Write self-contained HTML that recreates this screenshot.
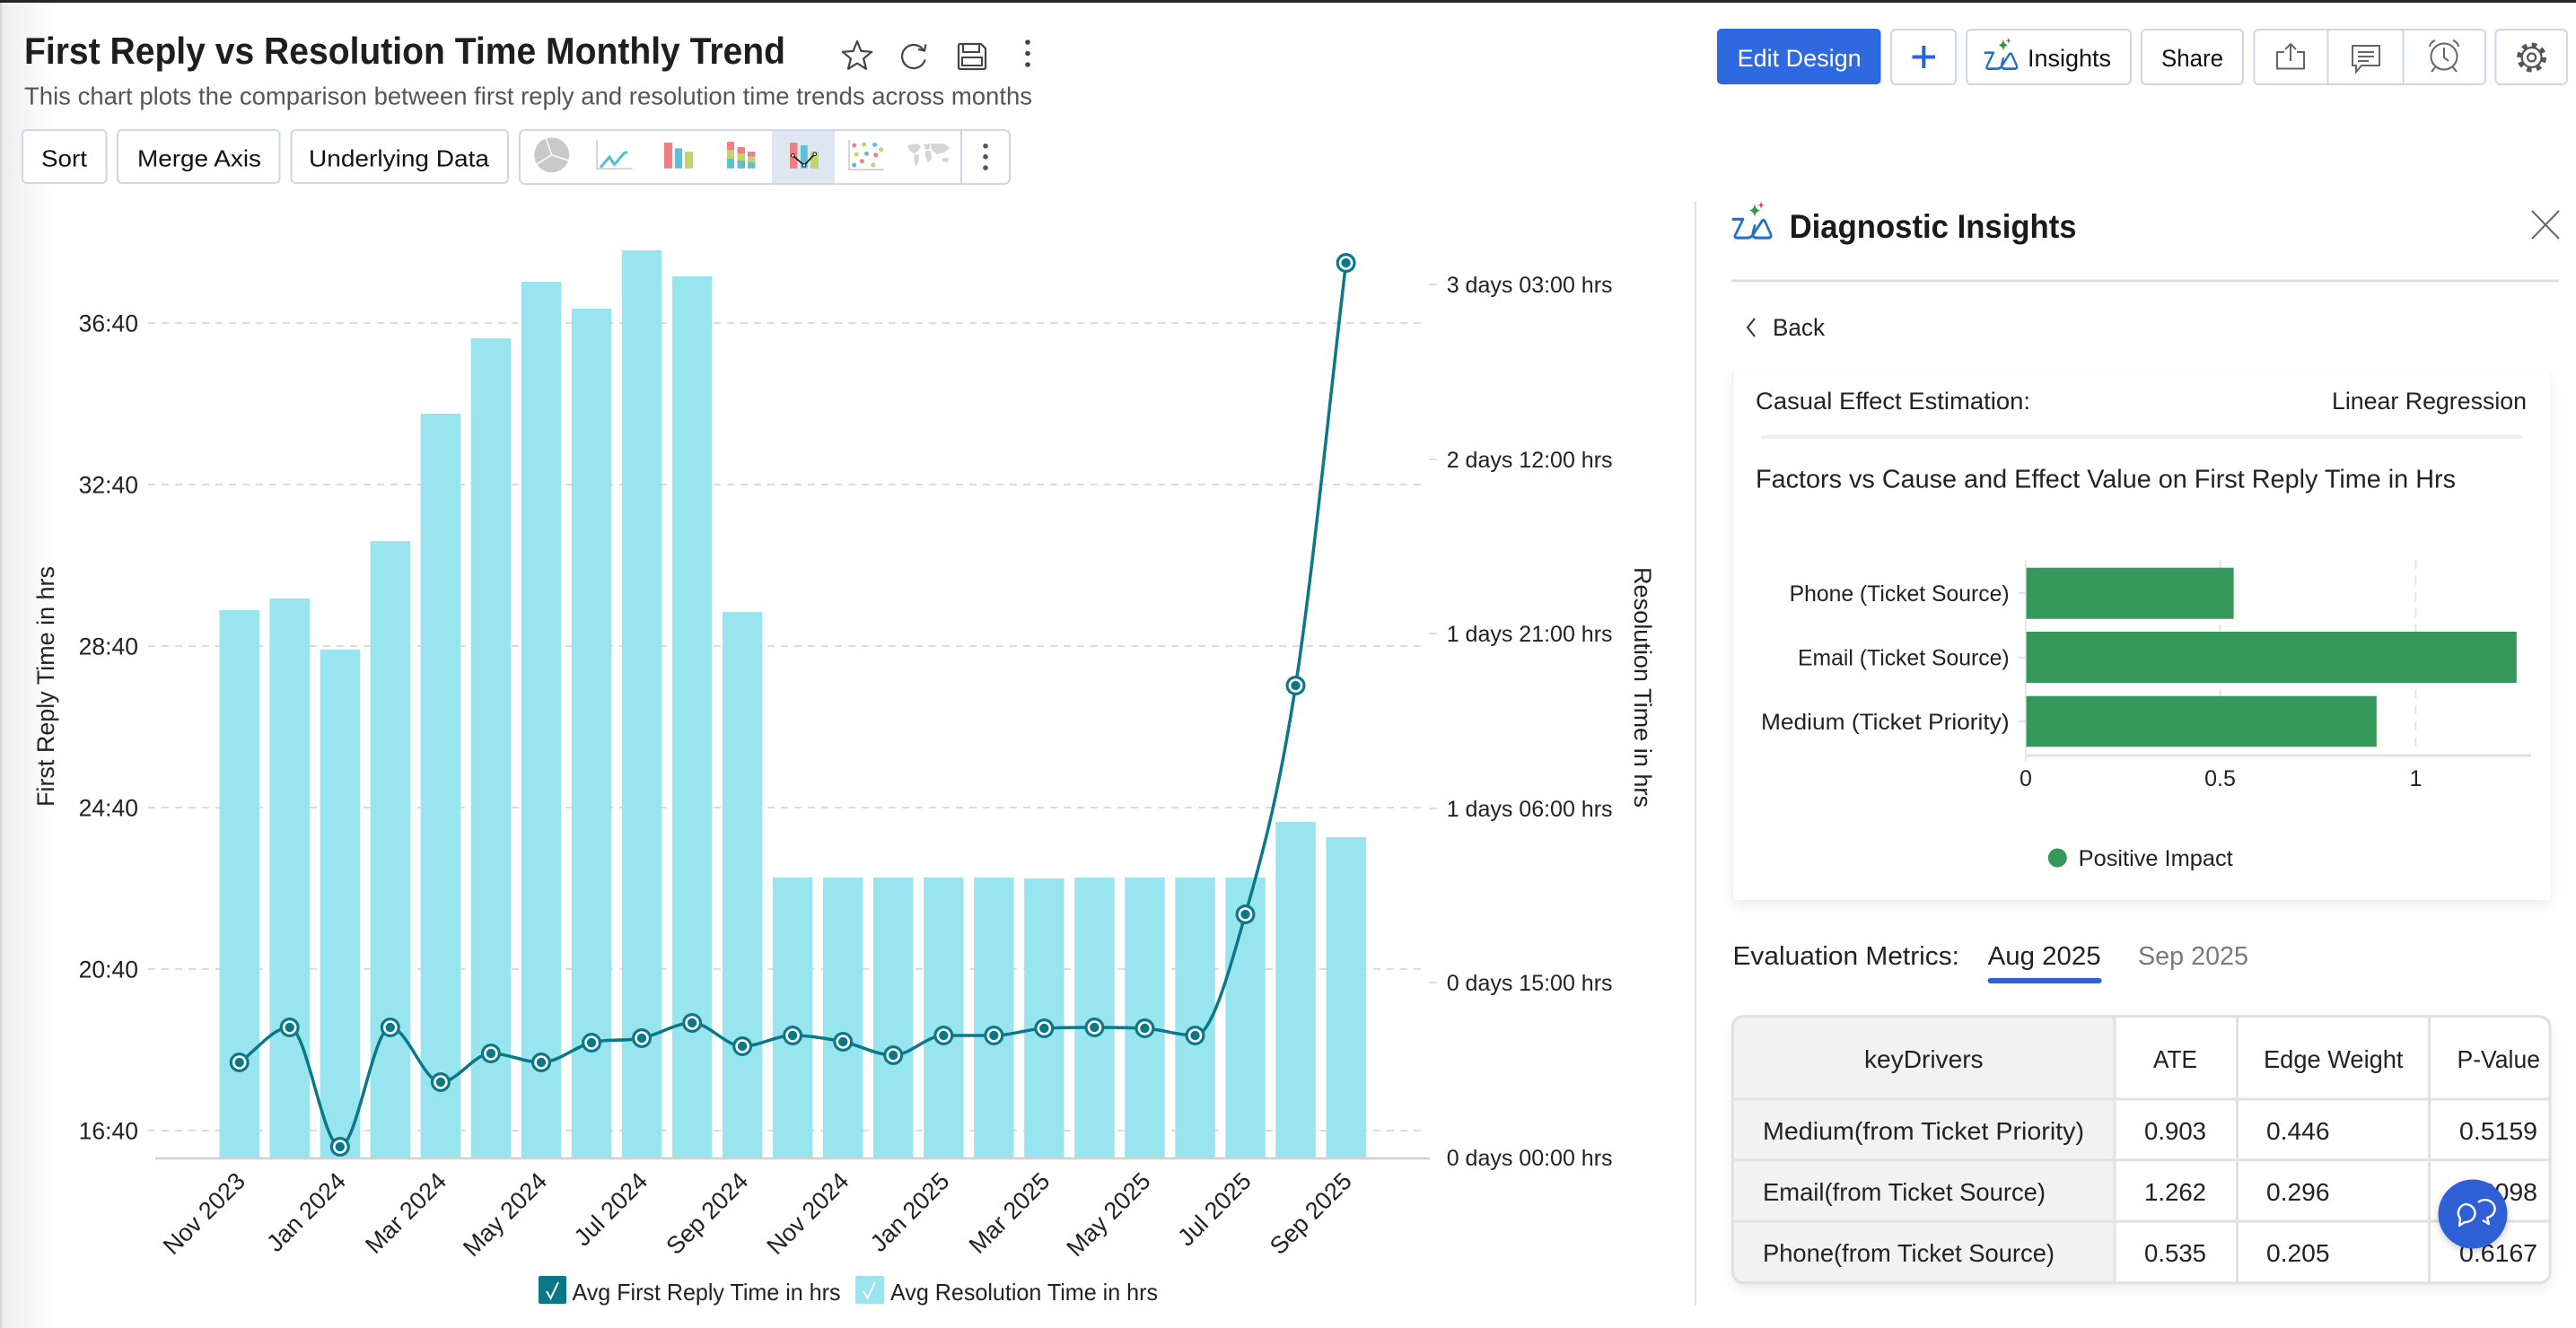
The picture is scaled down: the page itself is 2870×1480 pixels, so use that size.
<!DOCTYPE html>
<html><head><meta charset="utf-8">
<style>
html,body{margin:0;padding:0;background:#fff;}
body{width:2870px;height:1480px;overflow:hidden;}
svg{display:block;}
text{font-family:"Liberation Sans",Arial,sans-serif;}
</style></head><body>
<svg width="2870" height="1480" viewBox="0 0 2870 1480" xmlns="http://www.w3.org/2000/svg">
<defs>
<linearGradient id="lg" x1="0" x2="1" y1="0" y2="0"><stop offset="0" stop-color="#ededed"/><stop offset="1" stop-color="#ffffff"/></linearGradient>
<filter id="sh" x="-5%" y="-5%" width="110%" height="125%"><feDropShadow dx="0" dy="6" stdDeviation="7" flood-color="#000" flood-opacity="0.08"/></filter>
<filter id="sh2" x="-30%" y="-30%" width="160%" height="160%"><feDropShadow dx="0" dy="3" stdDeviation="4" flood-color="#000" flood-opacity="0.2"/></filter>
<g id="mk"><circle r="11" fill="#0b7888"/><circle r="7.8" fill="#fff"/><circle r="5.2" fill="#0b7888"/></g>
<clipPath id="tclip"><rect x="1930.5" y="1132.7" width="910.5" height="297" rx="12"/></clipPath>
<g id="zia">
  <path d="M2,15 L13,15 L4,30 Q3,32 7,32 L18,32 Q22,32 25,28 L33,18 Q36,14 38,18 L44,29 Q45,32 41,32 L28,32 Q23,32 24,27 L26,21" fill="none" stroke="#2170c8" stroke-width="2.6" stroke-linejoin="round" stroke-linecap="round"/>
  <path d="M26,1 Q27,6 32,7 Q27,8 26,13 Q25,8 20,7 Q25,6 26,1 Z" fill="#2e9a4e"/>
  <path d="M33,-1 L34,1.5 L36.5,2 L34,2.8 L33,5.5 L32,2.8 L29.5,2 L32,1.5 Z" fill="#e53935"/>
</g>
</defs>
<rect width="2870" height="1480" fill="#fff"/>
<rect x="0" y="0" width="62" height="1480" fill="url(#lg)"/>
<rect x="0" y="0" width="2.5" height="1480" fill="#d8d8d8"/>
<rect x="0" y="0" width="2870" height="3" fill="#262626"/>

<!-- Header -->
<text x="27" y="71" font-size="42" font-weight="700" textLength="848" lengthAdjust="spacingAndGlyphs" fill="#1e1e1e">First Reply vs Resolution Time Monthly Trend</text>
<text x="27" y="116.7" font-size="27.5" textLength="1123" lengthAdjust="spacingAndGlyphs" fill="#555">This chart plots the comparison between first reply and resolution time trends across months</text>

<!-- star -->
<path d="M955,46 L959.4,56.9 L971.2,57.8 L962.1,65.3 L965,76.8 L955,70.5 L945,76.8 L947.9,65.3 L938.8,57.8 L950.6,56.9 Z" fill="none" stroke="#444" stroke-width="2.2" stroke-linejoin="round"/>
<!-- refresh -->
<path d="M1029.3,56.5 A13,13 0 1 0 1030.6,66.4" fill="none" stroke="#444" stroke-width="2.2"/>
<polyline points="1023,55 1030,56.5 1031.5,49.5" fill="none" stroke="#444" stroke-width="2.2"/>
<!-- save -->
<path d="M1069,49 H1093 L1098,54 V75 Q1098,77 1096,77 H1070 Q1068,77 1068,75 V51 Q1068,49 1070,49 Z" fill="none" stroke="#444" stroke-width="2.2"/>
<rect x="1073" y="49" width="18" height="9" fill="none" stroke="#444" stroke-width="2"/>
<rect x="1072" y="64" width="22" height="9" fill="none" stroke="#444" stroke-width="2"/>
<!-- kebab -->
<circle cx="1145" cy="47" r="2.8" fill="#444"/><circle cx="1145" cy="59.5" r="2.8" fill="#444"/><circle cx="1145" cy="72" r="2.8" fill="#444"/>

<!-- toolbar buttons -->
<g fill="#fff" stroke="#cdd7e6" stroke-width="2">
<rect x="25" y="145" width="93.6" height="59" rx="5"/>
<rect x="131" y="145" width="180.5" height="59" rx="5"/>
<rect x="324.5" y="145" width="241.5" height="59" rx="5"/>
<rect x="579" y="145" width="546" height="60" rx="6"/>
</g>
<text x="46" y="185.5" font-size="26" textLength="51" lengthAdjust="spacingAndGlyphs" fill="#111">Sort</text>
<text x="153" y="185.5" font-size="26" textLength="138" lengthAdjust="spacingAndGlyphs" fill="#111">Merge Axis</text>
<text x="344" y="185.5" font-size="26" textLength="201" lengthAdjust="spacingAndGlyphs" fill="#111">Underlying Data</text>
<rect x="860" y="146" width="70" height="58" fill="#dde6f1"/>
<line x1="1071" y1="146" x2="1071" y2="204" stroke="#cdd7e6" stroke-width="2"/>
<!-- pie -->
<circle cx="614.7" cy="172.7" r="19.5" fill="#c9c9c9"/>
<g stroke="#fff" stroke-width="1.5"><line x1="614.7" y1="172.7" x2="608" y2="153.5"/><line x1="614.7" y1="172.7" x2="634" y2="179"/><line x1="614.7" y1="172.7" x2="598" y2="183"/></g>
<!-- line icon -->
<polyline points="665,156 665,188 704.5,188" fill="none" stroke="#c8c8c8" stroke-width="1.5"/>
<polyline points="669,186.7 679,175 684.5,183.3 695.4,170.7 699,169.3" fill="none" stroke="#4fc0d2" stroke-width="3"/>
<!-- bar icon -->
<rect x="740" y="159" width="9" height="28.7" fill="#f07f84"/>
<rect x="751.8" y="165.3" width="8.2" height="22.4" fill="#5bbfd6"/>
<rect x="763" y="169" width="9" height="18.7" fill="#bcd66a"/>
<!-- stacked -->
<rect x="810" y="158" width="8" height="9" fill="#f07f84"/><rect x="810" y="167" width="8" height="10" fill="#bcd66a"/><rect x="810" y="177" width="8" height="10.7" fill="#5bbfd6"/>
<rect x="821.5" y="164" width="8.5" height="7" fill="#f07f84"/><rect x="821.5" y="171" width="8.5" height="8" fill="#bcd66a"/><rect x="821.5" y="179" width="8.5" height="8.7" fill="#5bbfd6"/>
<rect x="833" y="169" width="8.5" height="5.7" fill="#f07f84"/><rect x="833" y="174.7" width="8.5" height="6" fill="#bcd66a"/><rect x="833" y="180.7" width="8.5" height="7" fill="#5bbfd6"/>
<!-- combo -->
<rect x="880" y="159" width="8.4" height="28.7" fill="#f07f84"/>
<rect x="892" y="162" width="7.7" height="25.7" fill="#5bbfd6"/>
<rect x="903" y="169" width="9" height="18.7" fill="#bcd66a"/>
<polyline points="883.3,173.3 896,184.3 907.7,171.7" fill="none" stroke="#111" stroke-width="1.6"/>
<g fill="#fff" stroke="#111" stroke-width="1"><circle cx="883.3" cy="173.3" r="1.8"/><circle cx="896" cy="184.3" r="1.8"/><circle cx="907.7" cy="171.7" r="1.8"/></g>
<!-- scatter -->
<polyline points="946,155.7 946,189 984.4,189" fill="none" stroke="#c8c8c8" stroke-width="1.5"/>
<g>
<circle cx="951.7" cy="162" r="2.5" fill="#f07f84"/><circle cx="962.6" cy="161" r="2.5" fill="#bcd66a"/><circle cx="974.6" cy="161.3" r="2.5" fill="#5bbfd6"/><circle cx="981.5" cy="166.7" r="2.5" fill="#bcd66a"/>
<circle cx="954.2" cy="172" r="2.5" fill="#bcd66a"/><circle cx="965.5" cy="171.3" r="2.5" fill="#5bbfd6"/><circle cx="975.7" cy="172.7" r="2.5" fill="#f07f84"/>
<circle cx="951.7" cy="184" r="2.5" fill="#5bbfd6"/><circle cx="960.4" cy="179.7" r="2.5" fill="#f07f84"/><circle cx="972.8" cy="184" r="2.5" fill="#bcd66a"/>
</g>
<!-- map -->
<g fill="#d6d6d6">
<path d="M1011,162 L1022,160 L1026,164 L1021,170 L1017,171 L1013,167 Z"/>
<path d="M1019,172 L1024,173 L1023,182 L1020,185 L1018,178 Z"/>
<path d="M1029,161 L1036,160 L1036,166 L1031,167 Z"/>
<path d="M1031,168 L1037,168 L1038,177 L1034,181 L1031,175 Z"/>
<path d="M1037,160 L1052,160 L1058,165 L1052,170 L1044,172 L1038,167 Z"/>
<path d="M1050,176 L1057,176 L1056,181 L1050,180 Z"/>
</g>
<circle cx="1098" cy="162.7" r="2.8" fill="#555"/><circle cx="1098" cy="174.7" r="2.8" fill="#555"/><circle cx="1098" cy="187" r="2.8" fill="#555"/>

<!-- top right buttons -->
<rect x="1913" y="32" width="182.5" height="62" rx="5" fill="#2f69e0"/>
<text x="1935.6" y="74" font-size="27" textLength="138" lengthAdjust="spacingAndGlyphs" fill="#fff">Edit Design</text>
<g fill="#fff" stroke="#cdd7e6" stroke-width="2">
<rect x="2107" y="33" width="72" height="61" rx="5"/>
<rect x="2191" y="33" width="183" height="61" rx="5"/>
<rect x="2386" y="33" width="113" height="61" rx="5"/>
<rect x="2511.4" y="33" width="257.6" height="61" rx="5"/>
<rect x="2780.4" y="33" width="79.6" height="61" rx="5"/>
</g>
<g stroke="#cdd7e6" stroke-width="2"><line x1="2593.5" y1="34" x2="2593.5" y2="93"/><line x1="2677.5" y1="34" x2="2677.5" y2="93"/></g>
<g stroke="#2d62d6" stroke-width="4"><line x1="2130.5" y1="63.5" x2="2156" y2="63.5"/><line x1="2143.3" y1="51" x2="2143.3" y2="76"/></g>
<use href="#zia" transform="translate(2210,43) scale(0.84,1.05)"/>
<text x="2259" y="74" font-size="27" textLength="93" lengthAdjust="spacingAndGlyphs" fill="#111">Insights</text>
<text x="2408" y="74" font-size="27" textLength="69" lengthAdjust="spacingAndGlyphs" fill="#111">Share</text>
<!-- export -->
<g fill="none" stroke="#666" stroke-width="2">
<polyline points="2545,58 2537,58 2537,76.5 2567,76.5 2567,58 2559,58"/>
<line x1="2552" y1="49" x2="2552" y2="68"/>
<polyline points="2546,55 2552,49 2558,55"/>
<!-- comment -->
<path d="M2621,51 H2651 V73 H2631 L2625,80 V73 H2621 Z"/>
<line x1="2627" y1="58" x2="2645" y2="58"/><line x1="2627" y1="63" x2="2645" y2="63"/><line x1="2627" y1="68" x2="2639" y2="68"/>
<!-- alarm -->
<circle cx="2723" cy="63" r="14.5"/>
<polyline points="2723,53 2723,64 2728,68"/>
<path d="M2707,52 A9,9 0 0 1 2713,45"/><path d="M2739,52 A9,9 0 0 0 2733,45"/>
<line x1="2713" y1="75" x2="2709" y2="80"/><line x1="2733" y1="75" x2="2737" y2="80"/>
</g>
<!-- gear -->
<g fill="none" stroke="#555">
<circle cx="2820.6" cy="64" r="11" stroke-width="2.2"/>
<circle cx="2820.6" cy="64" r="14" stroke-width="5" stroke-dasharray="5.5 5.5"/>
<circle cx="2820.6" cy="64" r="4.5" stroke-width="2.2"/>
</g>

<!-- CHART -->
<g stroke="#dcdcdc" stroke-width="2" stroke-dasharray="8 7">
<line x1="165" y1="360" x2="1588" y2="360"/>
<line x1="165" y1="540" x2="1588" y2="540"/>
<line x1="165" y1="720" x2="1588" y2="720"/>
<line x1="165" y1="900" x2="1588" y2="900"/>
<line x1="165" y1="1080" x2="1588" y2="1080"/>
<line x1="165" y1="1260" x2="1588" y2="1260"/>
</g>
<g stroke="#dedede" stroke-width="2">
<line x1="1592" y1="317" x2="1601" y2="317"/><line x1="1592" y1="512" x2="1601" y2="512"/><line x1="1592" y1="706" x2="1601" y2="706"/>
<line x1="1592" y1="901" x2="1601" y2="901"/><line x1="1592" y1="1095" x2="1601" y2="1095"/>
</g>
<g font-size="26.5" fill="#222" text-anchor="end">
<text x="154" y="369.5">36:40</text>
<text x="154" y="549.5">32:40</text>
<text x="154" y="729.5">28:40</text>
<text x="154" y="909.5">24:40</text>
<text x="154" y="1089.5">20:40</text>
<text x="154" y="1269.5">16:40</text>
</g>
<g font-size="25" fill="#222">
<text x="1611.7" y="326">3 days 03:00 hrs</text>
<text x="1611.7" y="521">2 days 12:00 hrs</text>
<text x="1611.7" y="715">1 days 21:00 hrs</text>
<text x="1611.7" y="910">1 days 06:00 hrs</text>
<text x="1611.7" y="1104">0 days 15:00 hrs</text>
<text x="1611.7" y="1299">0 days 00:00 hrs</text>
</g>
<text transform="translate(60,765) rotate(-90)" text-anchor="middle" font-size="27" textLength="268" lengthAdjust="spacingAndGlyphs" fill="#222">First Reply Time in hrs</text>
<text transform="translate(1821,766) rotate(90)" text-anchor="middle" font-size="27" textLength="268" lengthAdjust="spacingAndGlyphs" fill="#222">Resolution Time in hrs</text>

<g fill="#98e5f0">
<rect x="244.5" y="680" width="44.5" height="610"/>
<rect x="300.5" y="667" width="44.5" height="623"/>
<rect x="356.6" y="724" width="44.5" height="566"/>
<rect x="412.6" y="603" width="44.5" height="687"/>
<rect x="468.7" y="461" width="44.5" height="829"/>
<rect x="524.7" y="377" width="44.5" height="913"/>
<rect x="580.8" y="314" width="44.5" height="976"/>
<rect x="636.8" y="344" width="44.5" height="946"/>
<rect x="692.8" y="279" width="44.5" height="1011"/>
<rect x="748.9" y="308" width="44.5" height="982"/>
<rect x="804.9" y="682" width="44.5" height="608"/>
<rect x="860.9" y="978" width="44.5" height="312"/>
<rect x="917.0" y="978" width="44.5" height="312"/>
<rect x="973.0" y="978" width="44.5" height="312"/>
<rect x="1029.1" y="978" width="44.5" height="312"/>
<rect x="1085.1" y="978" width="44.5" height="312"/>
<rect x="1141.1" y="979" width="44.5" height="311"/>
<rect x="1197.2" y="978" width="44.5" height="312"/>
<rect x="1253.2" y="978" width="44.5" height="312"/>
<rect x="1309.3" y="978" width="44.5" height="312"/>
<rect x="1365.3" y="978" width="44.5" height="312"/>
<rect x="1421.3" y="916" width="44.5" height="374"/>
<rect x="1477.4" y="933" width="44.5" height="357"/>
</g>
<line x1="173" y1="1291" x2="1593" y2="1291" stroke="#cfcfcf" stroke-width="2.5"/>

<path d="M266.7 1184 C285.4 1171 304.0 1145 322.7 1145 C341.4 1145 360.1 1278 378.8 1278 C397.5 1278 416.1 1145 434.8 1145 C453.5 1145 472.2 1206 490.9 1206 C509.6 1206 528.2 1174 546.9 1174 C565.6 1174 584.3 1184 603.0 1184 C621.7 1184 640.3 1166.5 659.0 1162 C677.7 1157.5 696.3 1160.7 715.0 1157 C733.7 1153.3 752.4 1140 771.1 1140 C789.8 1140 808.4 1166 827.1 1166 C845.8 1166 864.4 1154 883.1 1154 C901.8 1154 920.5 1157.3 939.2 1161 C957.9 1164.7 976.5 1176 995.2 1176 C1013.9 1176 1032.6 1154 1051.3 1154 C1070 1154 1088.6 1154 1107.3 1154 C1126 1154 1144.6 1147 1163.3 1146 C1182 1145 1200.7 1145 1219.4 1145 C1238.1 1145 1256.7 1145 1275.4 1146 C1294.1 1147 1312.8 1154 1331.5 1154 C1350.2 1154 1368.8 1084 1387.5 1019 C1406.2 954 1424.8 885 1443.5 764 C1462.2 643 1480.9 450 1499.6 293" fill="none" stroke="#0b7888" stroke-width="3.5"/>
<g>
<use href="#mk" x="266.7" y="1184"/><use href="#mk" x="322.7" y="1145"/><use href="#mk" x="378.8" y="1278"/>
<use href="#mk" x="434.8" y="1145"/><use href="#mk" x="490.9" y="1206"/><use href="#mk" x="546.9" y="1174"/>
<use href="#mk" x="603.0" y="1184"/><use href="#mk" x="659.0" y="1162"/><use href="#mk" x="715.0" y="1157"/>
<use href="#mk" x="771.1" y="1140"/><use href="#mk" x="827.1" y="1166"/><use href="#mk" x="883.1" y="1154"/>
<use href="#mk" x="939.2" y="1161"/><use href="#mk" x="995.2" y="1176"/><use href="#mk" x="1051.3" y="1154"/>
<use href="#mk" x="1107.3" y="1154"/><use href="#mk" x="1163.3" y="1146"/><use href="#mk" x="1219.4" y="1145"/>
<use href="#mk" x="1275.4" y="1146"/><use href="#mk" x="1331.5" y="1154"/><use href="#mk" x="1387.5" y="1019"/>
<use href="#mk" x="1443.5" y="764"/><use href="#mk" x="1499.6" y="293"/>
</g>

<g font-size="27" fill="#222" text-anchor="end">
<text transform="translate(274.7,1318) rotate(-45)">Nov 2023</text>
<text transform="translate(386.8,1318) rotate(-45)">Jan 2024</text>
<text transform="translate(498.9,1318) rotate(-45)">Mar 2024</text>
<text transform="translate(611.0,1318) rotate(-45)">May 2024</text>
<text transform="translate(723.0,1318) rotate(-45)">Jul 2024</text>
<text transform="translate(835.1,1318) rotate(-45)">Sep 2024</text>
<text transform="translate(947.2,1318) rotate(-45)">Nov 2024</text>
<text transform="translate(1059.3,1318) rotate(-45)">Jan 2025</text>
<text transform="translate(1171.3,1318) rotate(-45)">Mar 2025</text>
<text transform="translate(1283.4,1318) rotate(-45)">May 2025</text>
<text transform="translate(1395.5,1318) rotate(-45)">Jul 2025</text>
<text transform="translate(1507.6,1318) rotate(-45)">Sep 2025</text>
</g>

<!-- legend -->
<rect x="600" y="1422" width="31" height="31" rx="2" fill="#0b7888"/>
<polyline points="609,1439 613.5,1447 622,1429" fill="none" stroke="#fff" stroke-width="2"/>
<text x="637.5" y="1449" font-size="26" textLength="299" lengthAdjust="spacingAndGlyphs" fill="#222">Avg First Reply Time in hrs</text>
<rect x="953" y="1422" width="32" height="31" rx="2" fill="#98e5f0"/>
<polyline points="962,1439 966.5,1447 975,1429" fill="none" stroke="#fff" stroke-width="2"/>
<text x="992" y="1449" font-size="26" textLength="298" lengthAdjust="spacingAndGlyphs" fill="#222">Avg Resolution Time in hrs</text>

<!-- RIGHT PANEL -->
<line x1="1889" y1="224" x2="1889" y2="1455" stroke="#e2e2e2" stroke-width="2"/>
<use href="#zia" transform="translate(1929,226) scale(1,1.22)"/>
<text x="1993.6" y="265" font-size="37" font-weight="700" textLength="320" lengthAdjust="spacingAndGlyphs" fill="#1a1a1a">Diagnostic Insights</text>
<g stroke="#666" stroke-width="2"><line x1="2821" y1="235" x2="2851" y2="266"/><line x1="2851" y1="235" x2="2821" y2="266"/></g>
<line x1="1929" y1="313" x2="2851" y2="313" stroke="#dedede" stroke-width="3"/>
<polyline points="1955,355 1947,365 1955,375" fill="none" stroke="#333" stroke-width="2"/>
<text x="1975" y="374" font-size="26.5" textLength="58" lengthAdjust="spacingAndGlyphs" fill="#222">Back</text>

<rect x="1930.5" y="413" width="910.5" height="590" fill="#fff" filter="url(#sh)"/>
<line x1="1930.5" y1="413" x2="1930.5" y2="1003" stroke="#f0f0f0" stroke-width="1.5"/>
<text x="1956" y="456" font-size="27" textLength="306" lengthAdjust="spacingAndGlyphs" fill="#222">Casual Effect Estimation:</text>
<text x="2598" y="456" font-size="27" textLength="217" lengthAdjust="spacingAndGlyphs" fill="#222">Linear Regression</text>
<line x1="1962" y1="487" x2="2810" y2="487" stroke="#eeeeee" stroke-width="4"/>
<text x="1956" y="543.3" font-size="28.5" textLength="780" lengthAdjust="spacingAndGlyphs" fill="#222">Factors vs Cause and Effect Value on First Reply Time in Hrs</text>

<g stroke="#e3e3e3" stroke-width="2" stroke-dasharray="10 8">
<line x1="2473.5" y1="624" x2="2473.5" y2="842"/>
<line x1="2691.4" y1="624" x2="2691.4" y2="842"/>
</g>
<line x1="2257" y1="624" x2="2257" y2="848" stroke="#e6e6e6" stroke-width="2"/>
<g stroke="#e0e0e0" stroke-width="2"><line x1="2249" y1="661" x2="2257" y2="661"/><line x1="2249" y1="733" x2="2257" y2="733"/><line x1="2249" y1="804" x2="2257" y2="804"/></g>
<g fill="#36975b">
<rect x="2257.6" y="632.7" width="231" height="57"/>
<rect x="2257.6" y="704" width="546.2" height="57"/>
<rect x="2257.6" y="775.7" width="390.2" height="56.6"/>
</g>
<line x1="2257" y1="842" x2="2820" y2="842" stroke="#e2e2e2" stroke-width="3"/>
<g font-size="25" fill="#222">
<text x="1993.6" y="670" textLength="245" lengthAdjust="spacingAndGlyphs">Phone (Ticket Source)</text>
<text x="2003" y="741.7" textLength="235.6" lengthAdjust="spacingAndGlyphs">Email (Ticket Source)</text>
<text x="1962" y="813" textLength="276.6" lengthAdjust="spacingAndGlyphs">Medium (Ticket Priority)</text>
</g>
<g font-size="25" fill="#222" text-anchor="middle">
<text x="2257" y="876">0</text>
<text x="2473.5" y="876">0.5</text>
<text x="2691.4" y="876">1</text>
</g>
<circle cx="2292.3" cy="956" r="10.5" fill="#36975b"/>
<text x="2315.7" y="965" font-size="25" textLength="172" lengthAdjust="spacingAndGlyphs" fill="#222">Positive Impact</text>

<text x="1930.5" y="1075" font-size="29" textLength="252.5" lengthAdjust="spacingAndGlyphs" fill="#222">Evaluation Metrics:</text>
<text x="2214.6" y="1075" font-size="29" textLength="126" lengthAdjust="spacingAndGlyphs" fill="#222">Aug 2025</text>
<text x="2382" y="1075" font-size="29" textLength="123" lengthAdjust="spacingAndGlyphs" fill="#7a7a7a">Sep 2025</text>
<rect x="2214.6" y="1090" width="127" height="6" rx="3" fill="#2c63d8"/>

<!-- table -->
<rect x="1930.5" y="1132.7" width="910.5" height="297" rx="12" fill="#fff" filter="url(#sh)"/>
<g clip-path="url(#tclip)">
<rect x="1930.5" y="1132.7" width="425.5" height="297" fill="#f2f2f2"/>
</g>
<g stroke="#e2e2e2" stroke-width="3">
<line x1="1930.5" y1="1225" x2="2841" y2="1225"/>
<line x1="1930.5" y1="1292.7" x2="2841" y2="1292.7"/>
<line x1="1930.5" y1="1361" x2="2841" y2="1361"/>
<line x1="2356" y1="1132.7" x2="2356" y2="1429.7"/>
<line x1="2492.5" y1="1132.7" x2="2492.5" y2="1429.7"/>
<line x1="2706.5" y1="1132.7" x2="2706.5" y2="1429.7"/>
</g>
<rect x="1930.5" y="1132.7" width="910.5" height="297" rx="12" fill="none" stroke="#e0e0e0" stroke-width="3"/>
<g font-size="28" fill="#222">
<text x="2077" y="1190" textLength="132.6" lengthAdjust="spacingAndGlyphs">keyDrivers</text>
<text x="2399" y="1190" textLength="49" lengthAdjust="spacingAndGlyphs">ATE</text>
<text x="2522" y="1190" textLength="155.5" lengthAdjust="spacingAndGlyphs">Edge Weight</text>
<text x="2737.5" y="1190" textLength="92.5" lengthAdjust="spacingAndGlyphs">P-Value</text>

<text x="1964" y="1270" textLength="358" lengthAdjust="spacingAndGlyphs">Medium(from Ticket Priority)</text>
<text x="2389" y="1270" textLength="69" lengthAdjust="spacingAndGlyphs">0.903</text>
<text x="2525" y="1270" textLength="70.5" lengthAdjust="spacingAndGlyphs">0.446</text>
<text x="2740" y="1270" textLength="87" lengthAdjust="spacingAndGlyphs">0.5159</text>

<text x="1964" y="1338" textLength="315" lengthAdjust="spacingAndGlyphs">Email(from Ticket Source)</text>
<text x="2389" y="1338" textLength="69" lengthAdjust="spacingAndGlyphs">1.262</text>
<text x="2525" y="1338" textLength="70.5" lengthAdjust="spacingAndGlyphs">0.296</text>
<text x="2740" y="1338" textLength="87" lengthAdjust="spacingAndGlyphs">0.6098</text>

<text x="1964" y="1406" textLength="325" lengthAdjust="spacingAndGlyphs">Phone(from Ticket Source)</text>
<text x="2389" y="1406" textLength="69" lengthAdjust="spacingAndGlyphs">0.535</text>
<text x="2525" y="1406" textLength="70.5" lengthAdjust="spacingAndGlyphs">0.205</text>
<text x="2740" y="1406" textLength="87" lengthAdjust="spacingAndGlyphs">0.6167</text>
</g>

<!-- chat FAB -->
<circle cx="2755" cy="1353" r="38.5" fill="#2d5fd5" filter="url(#sh2)"/>
<g fill="none" stroke="#fff" stroke-width="2.4" stroke-linejoin="round">
<path d="M2761,1340 A11,10 0 1 1 2771,1357 L2773,1364 L2766,1360"/>
<path d="M2747,1342 A11,10 0 1 1 2746,1362 L2740,1366 L2741,1358 A10,10 0 0 1 2747,1342 Z"/>
</g>
</svg>
</body></html>
